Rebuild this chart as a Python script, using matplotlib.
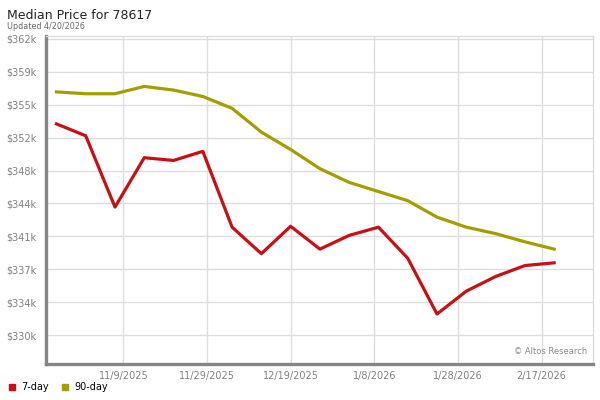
import datetime as dt
import matplotlib
matplotlib.use("Agg")
import matplotlib.pyplot as plt
from matplotlib.lines import Line2D

# Weekly observation dates
dates = [
    "2025-10-24", "2025-10-31", "2025-11-07", "2025-11-14", "2025-11-21",
    "2025-11-28", "2025-12-05", "2025-12-12", "2025-12-19", "2025-12-26",
    "2026-01-02", "2026-01-09", "2026-01-16", "2026-01-23", "2026-01-30",
    "2026-02-06", "2026-02-13", "2026-02-20",
]

# Median price, thousands of dollars
price_7day = [353.1, 351.8, 344.0, 349.4, 349.1, 350.1, 341.8, 338.9, 341.9,
              339.4, 340.9, 341.8, 338.4, 332.3, 334.8, 336.4, 337.6, 337.9]
price_90day = [356.6, 356.4, 356.4, 357.2, 356.8, 356.1, 354.8, 352.2, 350.3,
               348.2, 346.7, 345.7, 344.7, 342.9, 341.8, 341.1, 340.2, 339.4]

y_ticks = [330.0, 333.6, 337.2, 340.8, 344.4, 348.0, 351.6, 355.2, 358.8, 362.4]
y_labels = ["$330k", "$334k", "$337k", "$341k", "$344k", "$348k",
            "$352k", "$355k", "$359k", "$362k"]

x_ticks = ["2025-11-09", "2025-11-29", "2025-12-19", "2026-01-08", "2026-01-28", "2026-02-17"]
x_labels = ["11/9/2025", "11/29/2025", "12/19/2025", "1/8/2026", "1/28/2026", "2/17/2026"]

RED = "#c81014"
OLIVE = "#a29e00"
GRID = "#dddddd"
AXIS = "#858585"
LABEL = "#808080"

xs = [dt.datetime.fromisoformat(d) for d in dates]
xt = [dt.datetime.fromisoformat(d) for d in x_ticks]

fig = plt.figure(figsize=(6, 4), dpi=100)
ax = fig.add_axes([46 / 600, 1 - 364 / 400, (593 - 46) / 600, (364 - 35.7) / 400])

ax.plot(xs, price_90day, color=OLIVE, lw=2.3, solid_joinstyle="round", zorder=3)
ax.plot(xs, price_7day, color=RED, lw=2.3, solid_joinstyle="round", zorder=3)

ref = dt.datetime(2025, 12, 19)
ax.set_xlim(ref - dt.timedelta(days=58.5), ref + dt.timedelta(days=72.3))
ax.set_ylim(326.83, 362.75)

ax.set_xticks(xt)
ax.set_xticklabels(x_labels)
ax.set_yticks(y_ticks)
ax.set_yticklabels(y_labels)
ax.tick_params(axis="both", length=0, labelsize=7, labelcolor=LABEL)
ax.tick_params(axis="y", pad=7)
ax.tick_params(axis="x", pad=5)
ax.grid(True, color=GRID, lw=1)
ax.set_axisbelow(True)

for side in ("top", "right"):
    ax.spines[side].set_color(GRID)
    ax.spines[side].set_linewidth(1)
for side in ("left", "bottom"):
    ax.spines[side].set_color(AXIS)
    ax.spines[side].set_linewidth(2.4)

ax.text(0.99, 0.025, "\u00a9 Altos Research", transform=ax.transAxes,
        ha="right", va="bottom", fontsize=6, color="#888888")

fig.text(7 / 600, 1 - 19 / 400, "Median Price for 78617", fontsize=9, color="#222222")
fig.text(7 / 600, 1 - 29 / 400, "Updated 4/20/2026", fontsize=5.8, color="#666666")

handles = [
    Line2D([], [], ls="none", marker="s", markersize=5, color=RED, label="7-day"),
    Line2D([], [], ls="none", marker="s", markersize=5, color=OLIVE, label="90-day"),
]
fig.legend(handles=handles, loc="lower left", bbox_to_anchor=(0.0, 0.0), ncol=2,
           frameon=False, fontsize=7, handlelength=0.8, handletextpad=0.6,
           columnspacing=1.2, borderpad=0.3)

fig.savefig("out.png", dpi=100)
